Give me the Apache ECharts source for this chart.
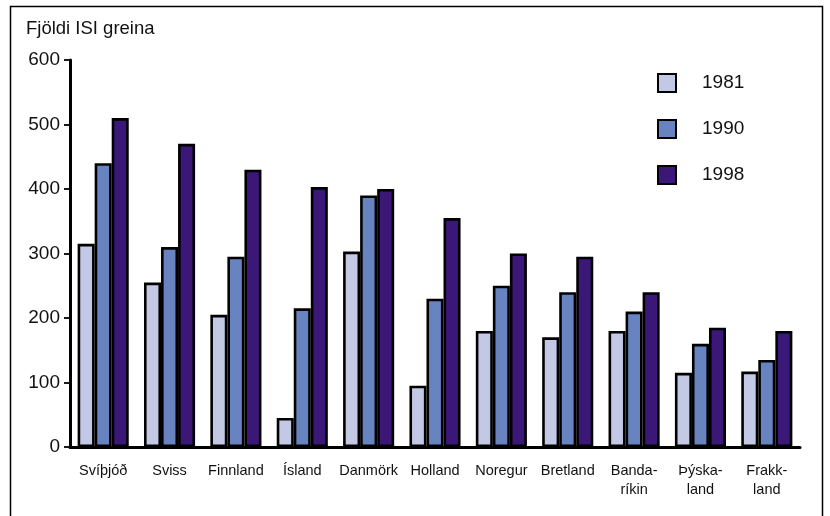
<!DOCTYPE html>
<html>
<head>
<meta charset="utf-8">
<script src="https://cdn.jsdelivr.net/npm/echarts@6/dist/echarts.min.js"></script>
<style>
  html, body { margin: 0; padding: 0; background: #fff; }
  #chart { width: 830px; height: 516px; }
</style>
</head>
<body>
<div id="chart"></div>
<script>
// lönd (flokkar á x-ás)
var countries = ["Svíþjóð", "Sviss", "Finnland", "Ísland", "Danmörk", "Holland",
  "Noregur", "Bretland", "Banda-\nríkin", "Þýska-\nland", "Frakk-\nland"];
var years = ["1981", "1990", "1998"];
// fjöldi ISI greina eftir árum
var v1981 = [315, 255, 205, 45, 303, 95, 180, 170, 180, 115, 117];
var v1990 = [440, 310, 295, 215, 390, 230, 250, 240, 210, 160, 135];
var v1998 = [510, 470, 430, 403, 400, 355, 300, 295, 240, 185, 180];
var yTicks = [0, 100, 200, 300, 400, 500, 600];

var colors = ["#c3c8e5", "#6784c0", "#3b1877"];
var font = "Liberation Sans, Arial, sans-serif";

function bar(name, data, i) {
  return {
    name: name,
    type: "bar",
    data: data,
    barGap: "0%",
    barCategoryGap: "23%",
    itemStyle: { color: colors[i], borderColor: "#000", borderWidth: 2.6 },
    emphasis: { disabled: true }
  };
}

var myChart = echarts.init(document.getElementById("chart"));
myChart.setOption({
  animation: false,
  textStyle: { fontFamily: font },
  graphic: [
    {
      type: "rect",
      shape: { x: 10.5, y: 6.5, width: 812, height: 520 },
      style: { fill: "none", stroke: "#000", lineWidth: 1.5 }
    },
    {
      type: "text",
      left: 26,
      top: 19,
      style: { text: "Fjöldi ISI greina", fontSize: 18.5, fontFamily: font, fill: "#111" }
    }
  ],
  legend: {
    orient: "vertical",
    left: 652,
    top: 68,
    itemWidth: 18,
    itemHeight: 18,
    itemGap: 26,
    icon: "rect",
    textStyle: { fontSize: 19, color: "#111", padding: [0, 0, 0, 21] },
    data: years
  },
  grid: { left: 70, right: 30, top: 60, bottom: 69, containLabel: false },
  xAxis: {
    type: "category",
    data: countries,
    axisLine: { lineStyle: { color: "#000", width: 3 } },
    axisTick: { length: 8, lineStyle: { color: "#000", width: 1.8 } },
    axisLabel: { fontSize: 14.5, color: "#111", margin: 14, lineHeight: 19, interval: 0 }
  },
  yAxis: {
    type: "value",
    min: yTicks[0],
    max: yTicks[yTicks.length - 1],
    interval: 100,
    axisLine: { show: true, lineStyle: { color: "#000", width: 3 } },
    axisTick: { show: true, length: 6, lineStyle: { color: "#000", width: 1.8 } },
    axisLabel: { fontSize: 19, color: "#111", margin: 10 },
    splitLine: { show: false }
  },
  series: [
    bar(years[0], v1981, 0),
    bar(years[1], v1990, 1),
    bar(years[2], v1998, 2)
  ]
});
</script>
</body>
</html>
